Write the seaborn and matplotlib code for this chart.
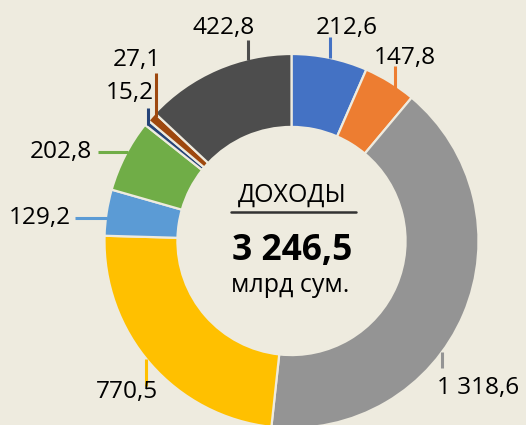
import matplotlib
matplotlib.use("Agg")
import matplotlib.pyplot as plt
import seaborn as sns

# Revenue structure, bn sum (clockwise from the top)
values = [212.6, 147.8, 1318.6, 770.5, 129.2, 202.8, 15.2, 27.1, 422.8]
value_labels = ["212,6", "147,8", "1 318,6", "770,5", "129,2", "202,8", "15,2", "27,1", "422,8"]
colors = ["#4472C4", "#ED7D31", "#949494", "#FFC000", "#5B9BD5",
          "#70AD47", "#264478", "#9E480E", "#4D4D4D"]
center_title = "ДОХОДЫ"
center_total = "3 246,5"
center_unit = "млрд сум."

W, H = 526, 425
BG = "#EEEBDF"

sns.set_theme(style="white", rc={"axes.facecolor": BG, "figure.facecolor": BG})
plt.rcParams["font.family"] = ["Open Sans", "DejaVu Sans"]

fig = plt.figure(figsize=(W / 100, H / 100), dpi=100)
ax = fig.add_axes([0, 0, 1, 1])
ax.set_facecolor(BG)


def Y(py):
    # pixel row (from the top) -> data y
    return H - py


cx, cy, R = 291.5, 241, 187
ring = 0.39

ax.pie(values, colors=colors, startangle=90, counterclock=False,
       center=(cx, Y(cy)), radius=R,
       wedgeprops=dict(width=R * ring, edgecolor=BG, linewidth=1.6))

ax.set_xlim(0, W)
ax.set_ylim(0, H)
ax.set_aspect("equal")
ax.axis("off")

# label text positions (px) and leader segments (px)
label_pos = [(347, 28, "center"), (405, 58, "center"), (478, 388, "center"),
             (127, 392, "center"), (71, 218, "right"), (92, 152, "right"),
             (130, 93, "center"), (137, 60, "center"), (224, 28, "center")]
leaders = [(330, 37, 330, 58), (395, 66, 395, 103), (442, 352, 442, 368),
           (146, 359, 146, 386), (75, 218, 107, 218), (98, 152, 128, 152),
           (148, 108, 148, 125), (156, 73, 156, 117), (248, 40, 248, 60)]

for lab, (px, py, ha), (x0, y0, x1, y1), col in zip(value_labels, label_pos, leaders, colors):
    ax.text(px, Y(py), lab, ha=ha, va="center", fontsize=17.6, color="#000000")
    ax.plot([x0, x1], [Y(y0), Y(y1)], color=col, lw=2.2, solid_capstyle="butt")

# centre caption
ax.text(292, Y(195), center_title, ha="center", va="center", fontsize=18, color="#000000")
ax.plot([231, 356], [Y(212), Y(212)], color="#333333", lw=1.8)
ax.text(292, Y(251), center_total, ha="center", va="center", fontsize=25.5,
        fontweight="bold", color="#000000")
ax.text(290, Y(285), center_unit, ha="center", va="center", fontsize=18, color="#000000")

fig.savefig("out.png", dpi=100, facecolor=BG)
